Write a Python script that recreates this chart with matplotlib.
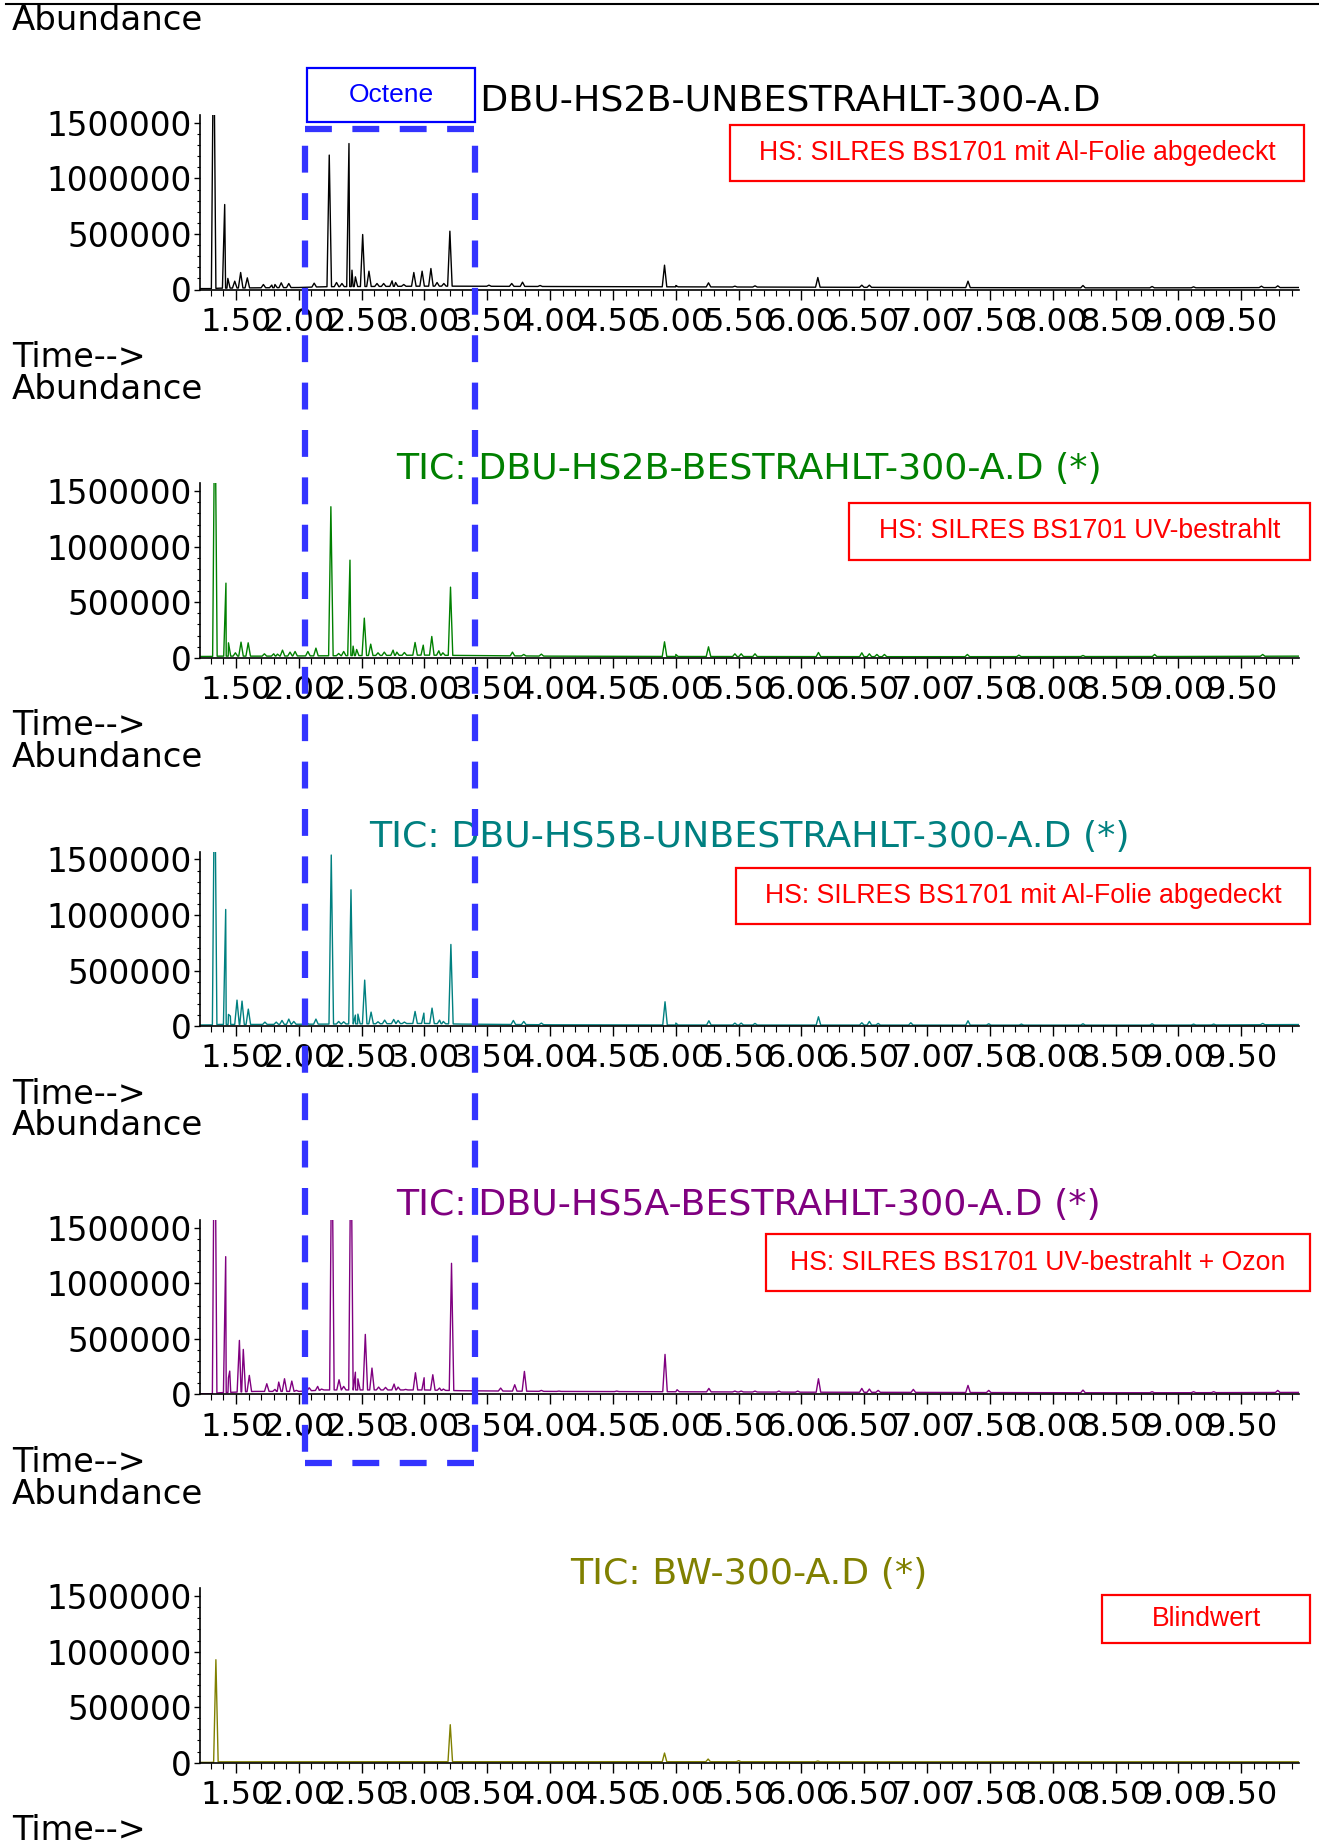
import numpy as np
import matplotlib.pyplot as plt
from matplotlib.patches import Rectangle
from matplotlib.lines import Line2D
from matplotlib.transforms import blended_transform_factory
from matplotlib.ticker import MultipleLocator, FormatStrFormatter

# ---- chromatogram data (time in min, abundance) ----
titles = ["TIC: DBU-HS2B-UNBESTRAHLT-300-A.D",
          "TIC: DBU-HS2B-BESTRAHLT-300-A.D (*)",
          "TIC: DBU-HS5B-UNBESTRAHLT-300-A.D (*)",
          "TIC: DBU-HS5A-BESTRAHLT-300-A.D (*)",
          "TIC: BW-300-A.D (*)"]
labels = ["HS: SILRES BS1701 mit Al-Folie abgedeckt",
          "HS: SILRES BS1701 UV-bestrahlt",
          "HS: SILRES BS1701 mit Al-Folie abgedeckt",
          "HS: SILRES BS1701 UV-bestrahlt + Ozon",
          "Blindwert"]
colors = ["black", "#008000", "#008080", "#800080", "#808000"]

p1_t = [1.322, 1.41, 1.435, 1.49, 1.537, 1.59, 1.718, 1.785, 1.81, 1.86, 1.92, 2.122,
        2.242, 2.30, 2.343, 2.399, 2.423, 2.45, 2.508, 2.558, 2.622, 2.675, 2.742, 2.77,
        2.835, 2.915, 2.981, 3.051, 3.10, 3.154, 3.202, 3.513, 3.694, 3.78, 3.92, 4.91,
        5.0, 5.26, 5.47, 5.63, 6.13, 6.48, 6.54, 7.325, 8.24, 8.79, 9.12, 9.66, 9.79]
p1_h = [2.5e6, 765000, 100000, 75000, 153000, 105000, 45000, 40000, 45000, 60000, 54000, 57000,
        1.21e6, 63000, 54000, 1.314e6, 174000, 114000, 495000, 165000, 54000, 54000, 78000, 63000,
        45000, 153000, 165000, 189000, 63000, 54000, 525000, 39000, 54000, 66000, 36000, 219000,
        36000, 60000, 30000, 33000, 108000, 39000, 39000, 75000, 36000, 27000, 24000, 30000, 33000]
b1_t = [1.21, 1.30, 1.37, 1.65, 2.0, 2.2, 3.0, 3.3, 4.0, 5.0, 6.0, 7.0, 8.0, 9.0, 9.97]
b1_h = [8000, 8000, 12000, 15000, 18000, 25000, 30000, 30000, 27000, 24000, 21000, 18000, 15000, 15000, 18000]

p2_t = [1.332, 1.42, 1.44, 1.495, 1.54, 1.597, 1.726, 1.80, 1.83, 1.87, 1.93, 1.97, 2.072,
        2.136, 2.255, 2.317, 2.357, 2.407, 2.432, 2.46, 2.521, 2.572, 2.63, 2.68, 2.75, 2.78,
        2.84, 2.925, 2.99, 3.058, 3.114, 3.146, 3.207, 3.70, 3.79, 3.93, 4.91, 5.0, 5.26, 5.47,
        5.52, 5.63, 6.135, 6.48, 6.54, 6.60, 6.66, 7.32, 7.73, 8.24, 8.81, 9.67]
p2_h = [2.5e6, 672000, 135000, 45000, 141000, 135000, 36000, 36000, 33000, 69000, 51000, 57000, 57000,
        87000, 1.36e6, 39000, 57000, 879000, 105000, 75000, 357000, 123000, 45000, 51000, 69000, 51000,
        48000, 138000, 114000, 192000, 63000, 45000, 636000, 51000, 30000, 33000, 144000, 30000, 99000, 36000,
        36000, 36000, 48000, 45000, 36000, 30000, 30000, 30000, 24000, 21000, 30000, 30000]
b2_t = [1.21, 1.30, 1.37, 1.7, 2.2, 3.0, 3.3, 4.0, 5.0, 7.0, 9.0, 9.97]
b2_h = [12000, 12000, 15000, 15000, 18000, 24000, 21000, 15000, 12000, 10000, 12000, 15000]

p3_t = [1.33, 1.418, 1.44, 1.455, 1.508, 1.548, 1.598, 1.73, 1.82, 1.866, 1.92, 1.96, 2.06,
        2.136, 2.258, 2.317, 2.357, 2.415, 2.45, 2.47, 2.524, 2.575, 2.63, 2.683, 2.755, 2.79,
        2.84, 2.925, 2.995, 3.06, 3.12, 3.15, 3.21, 3.707, 3.79, 3.93, 4.914, 5.0, 5.263, 5.47,
        5.52, 5.63, 6.135, 6.48, 6.54, 6.61, 6.87, 7.325, 7.49, 7.75, 8.24, 8.79, 9.12, 9.28, 9.67]
p3_h = [2.5e6, 1.05e6, 105000, 90000, 234000, 225000, 153000, 36000, 36000, 51000, 63000, 42000, 36000,
        63000, 1.54e6, 42000, 39000, 1.227e6, 99000, 108000, 414000, 126000, 39000, 54000, 60000, 51000,
        36000, 132000, 117000, 162000, 54000, 42000, 735000, 51000, 42000, 27000, 219000, 27000, 48000, 27000,
        27000, 24000, 84000, 30000, 42000, 24000, 30000, 48000, 21000, 18000, 21000, 21000, 18000, 18000, 24000]
b3_t = [1.21, 1.30, 1.37, 1.7, 2.2, 3.0, 3.3, 4.0, 5.0, 7.0, 9.0, 9.97]
b3_h = [10000, 10000, 15000, 15000, 18000, 24000, 18000, 12000, 10000, 9000, 9000, 14000]

p4_t = [1.33, 1.418, 1.44, 1.45, 1.527, 1.558, 1.606, 1.745, 1.81, 1.84, 1.886, 1.944, 1.98,
        2.082, 2.15, 2.18, 2.263, 2.32, 2.357, 2.415, 2.45, 2.47, 2.529, 2.582, 2.635, 2.69,
        2.758, 2.79, 2.85, 2.928, 2.997, 3.066, 3.12, 3.15, 3.215, 3.606, 3.718, 3.795, 3.93,
        4.07, 4.53, 4.914, 5.01, 5.263, 5.47, 5.52, 5.63, 5.82, 5.97, 6.135, 6.48, 6.54, 6.61,
        6.89, 7.325, 7.49, 8.24, 8.79, 9.12, 9.28, 9.79]
p4_h = [3e6, 1.24e6, 150000, 210000, 486000, 405000, 171000, 96000, 45000, 111000, 141000, 120000, 36000,
        60000, 72000, 48000, 2.5e6, 132000, 72000, 2.5e6, 200000, 140000, 540000, 237000, 66000, 63000,
        93000, 66000, 45000, 195000, 150000, 177000, 57000, 48000, 1.18e6, 57000, 87000, 207000, 36000,
        30000, 30000, 360000, 42000, 54000, 30000, 30000, 30000, 30000, 30000, 141000, 54000, 48000, 36000,
        45000, 81000, 36000, 39000, 24000, 24000, 24000, 36000]
b4_t = [1.21, 1.30, 1.37, 1.65, 2.0, 2.2, 3.0, 3.3, 4.0, 5.0, 6.0, 7.0, 8.0, 9.0, 9.97]
b4_h = [6000, 6000, 15000, 27000, 27000, 40000, 40000, 33000, 27000, 24000, 20000, 18000, 15000, 15000, 18000]

p5_t = [1.34, 3.205, 4.91, 5.257, 5.5, 6.13]
p5_h = [927000, 342000, 87000, 33000, 18000, 15000]
b5_t = [1.21, 1.30, 1.37, 3.0, 5.0, 7.0, 9.97]
b5_h = [3000, 3000, 8000, 9000, 9000, 8000, 8000]

peaks = [(p1_t, p1_h, b1_t, b1_h), (p2_t, p2_h, b2_t, b2_h), (p3_t, p3_h, b3_t, b3_h),
         (p4_t, p4_h, b4_t, b4_h), (p5_t, p5_h, b5_t, b5_h)]

octene_window = [2.049, 3.402]


def build_trace(pt, ph, bt, bh, w=0.018):
    # baseline points plus a narrow triangle for each peak
    t = list(bt)
    y = list(bh)
    for ti, hi in zip(pt, ph):
        feet = np.interp([ti - w, ti + w], bt, bh)
        t += [ti - w, ti, ti + w]
        y += [feet[0], hi, feet[1]]
    order = np.argsort(t, kind="stable")
    return np.array(t)[order], np.array(y)[order]


W, H = 1319, 1843
fig = plt.figure(figsize=(W / 100, H / 100), dpi=100)
plt.rcParams['font.family'] = ['DejaVu Sans']
arial = ['Liberation Sans']


def fy(y):
    return 1 - y / H


zeros = [289.5 + 368.3 * i for i in range(5)]
# red box extents in pixels (x0, x1, y0, y1)
boxes = [(730, 1304, 124.6, 181), (849, 1310, 503, 560), (736, 1310, 868, 924),
         (766, 1310, 1234, 1291), (1102, 1310, 1595, 1643)]

axes = []
for i in range(5):
    z = zeros[i]
    ax = fig.add_axes([200 / W, 1 - z / H, 1099 / W, 174.4 / H])
    t, y = build_trace(*peaks[i])
    ax.plot(t, y, color=colors[i], lw=1.0)
    ax.set_xlim(1.2135, 9.959)
    ax.set_ylim(0, 1.57e6)
    for s in ['top', 'right']:
        ax.spines[s].set_visible(False)
    for s in ['left', 'bottom']:
        ax.spines[s].set_linewidth(1.2)
    ax.xaxis.set_major_locator(MultipleLocator(0.5))
    ax.xaxis.set_minor_locator(MultipleLocator(0.1))
    ax.xaxis.set_major_formatter(FormatStrFormatter('%.2f'))
    ax.yaxis.set_major_locator(MultipleLocator(500000))
    ax.yaxis.set_minor_locator(MultipleLocator(100000))
    ax.yaxis.set_major_formatter(FormatStrFormatter('%d'))
    ax.tick_params(axis='x', which='major', length=7.5, width=1.0, labelsize=23, pad=5)
    ax.tick_params(axis='x', which='minor', length=4.5, width=0.8)
    ax.tick_params(axis='y', which='major', length=4, width=1.0, labelsize=23.5, pad=2)
    ax.tick_params(axis='y', which='minor', length=2.5, width=0.8)
    axes.append(ax)

    fig.text(12 / W, fy(z - 268.5), "Abundance", fontsize=24.5, ha='left', va='center')
    fig.text(12 / W, fy(z + 68), "Time-->", fontsize=24, ha='left', va='center')
    fig.text(749 / W, fy(z - 189), titles[i], fontsize=26.2, color=colors[i],
             ha='center', va='center', zorder=1)

    x0, x1, y0, y1 = boxes[i]
    fig.add_artist(Rectangle((x0 / W, fy(y1)), (x1 - x0) / W, (y1 - y0) / H,
                             transform=fig.transFigure, fill=False, ec='#ff0000', lw=1.6))
    fig.text((x0 + x1) / 2 / W, fy((y0 + y1) / 2), labels[i], fontsize=19.2, color='#ff0000',
             family=arial, ha='center', va='center')

# top rule
fig.add_artist(Line2D([6 / W, 1], [fy(4), fy(4)], transform=fig.transFigure, color='black', lw=1.5))

# Octene label box (covers the start of the first title)
fig.add_artist(Rectangle((307 / W, fy(122.3)), 168 / W, 54 / H, transform=fig.transFigure,
                         fc='white', ec='#0000ff', lw=1.6, zorder=3))
fig.text(391 / W, fy(95), "Octene", fontsize=19, color='#0000ff', family=arial,
         ha='center', va='center', zorder=4)

# dashed window marking the octene peaks
tr = blended_transform_factory(axes[0].transData, fig.transFigure)
xa, xb = octene_window
dash = dict(color='#3333ff', lw=4.5, transform=tr, zorder=5)
fig.add_artist(Line2D([xa, xb], [fy(129), fy(129)], linestyle=(0, (4.3, 3.28)), **dash))
fig.add_artist(Line2D([xa, xa], [fy(129), fy(1463)], linestyle=(4.9, (4.3, 3.28)), **dash))
fig.add_artist(Line2D([xb, xb], [fy(129), fy(1463)], linestyle=(4.9, (4.3, 3.28)), **dash))
fig.add_artist(Line2D([xa, xb], [fy(1463), fy(1463)], linestyle=(0, (4.3, 3.28)), **dash))

fig.savefig("out.png", dpi=100)
